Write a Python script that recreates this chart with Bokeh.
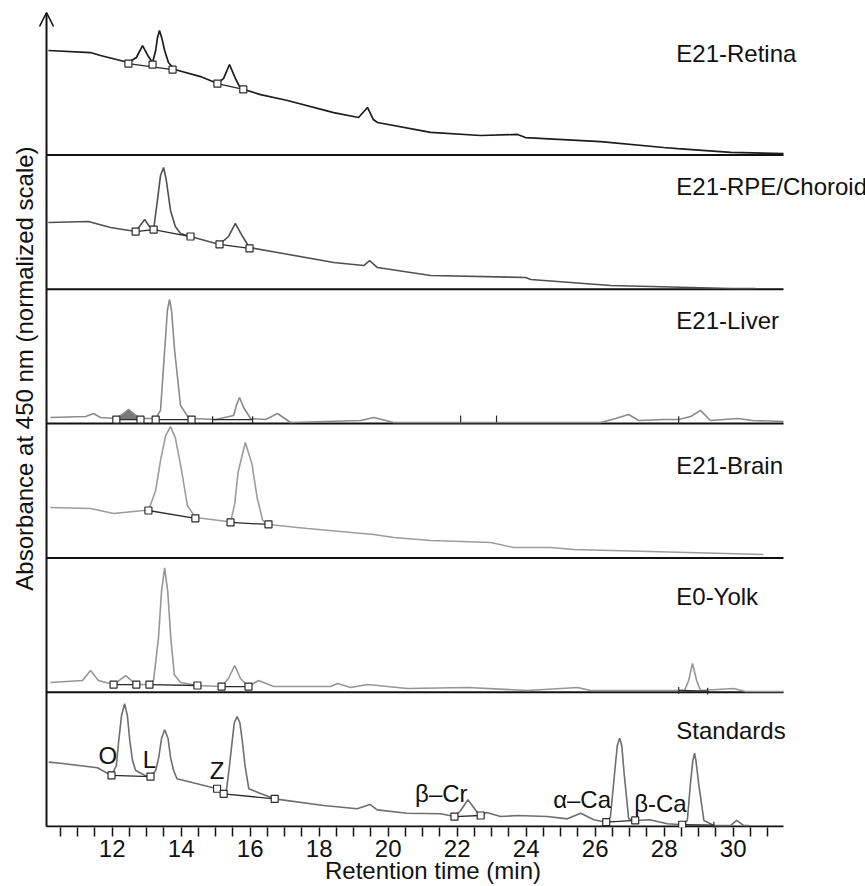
from math import pi
from bokeh.plotting import figure
from bokeh.models import Range1d, FixedTicker, Label, Arrow, OpenHead
from bokeh.embed import file_html
from bokeh.resources import INLINE

FONT = "Liberation Sans"

# ---------------- data (retention time in min, absorbance as fraction of panel height) ----------
panel_names = ["E21-Retina", "E21-RPE/Choroid", "E21-Liver", "E21-Brain", "E0-Yolk", "Standards"]
panel_label_v = [0.756, 0.769, 0.768, 0.688, 0.709, 0.715]

retina_t = [10.15, 11.37, 11.66, 12.47, 12.70, 12.88, 13.05, 13.17, 13.26, 13.31, 13.37, 13.44, 13.52,
            13.63, 13.81, 14.56, 15.05, 15.23, 15.40, 15.57, 15.72, 16.30, 17.08, 18.42, 19.14, 19.40,
            19.57, 19.69, 21.23, 22.68, 23.75, 23.98, 26.16, 27.98, 28.39, 29.93, 31.46]
retina_v = [0.778, 0.763, 0.741, 0.689, 0.726, 0.815, 0.733, 0.689, 0.778, 0.870, 0.927, 0.870, 0.778,
            0.689, 0.637, 0.584, 0.532, 0.570, 0.674, 0.570, 0.495, 0.450, 0.406, 0.316, 0.279, 0.354,
            0.264, 0.242, 0.168, 0.145, 0.153, 0.130, 0.100, 0.056, 0.048, 0.019, 0.011]

rpe_t = [10.15, 11.31, 11.95, 12.68, 12.79, 12.94, 13.08, 13.20, 13.31, 13.40, 13.49, 13.57, 13.69,
         13.83, 13.98, 14.27, 15.11, 15.37, 15.57, 15.78, 15.98, 16.79, 18.42, 19.29, 19.46, 19.69,
         21.23, 23.98, 24.13, 26.45, 29.93, 30.65]
rpe_v = [0.497, 0.505, 0.460, 0.430, 0.468, 0.520, 0.468, 0.445, 0.661, 0.847, 0.907, 0.810, 0.587,
         0.468, 0.415, 0.393, 0.334, 0.393, 0.490, 0.393, 0.311, 0.274, 0.200, 0.177, 0.214, 0.162,
         0.103, 0.088, 0.073, 0.028, 0.006, 0.006]

liver_t = [10.21, 11.23, 11.46, 11.66, 12.12, 12.33, 12.47, 12.65, 12.82, 13.26, 13.40, 13.52, 13.60,
           13.66, 13.72, 13.81, 13.98, 14.21, 14.30, 15.00, 15.52, 15.60, 15.69, 15.81, 16.01, 16.45,
           16.79, 17.17, 19.20, 19.58, 20.16, 26.16, 26.59, 26.97, 27.26, 27.98, 28.42, 28.77, 29.05,
           29.34, 30.13, 30.56, 31.46]
liver_v = [0.045, 0.053, 0.075, 0.045, 0.038, 0.075, 0.105, 0.068, 0.038, 0.038, 0.098, 0.544, 0.842,
           0.924, 0.842, 0.544, 0.135, 0.045, 0.038, 0.030, 0.060, 0.135, 0.194, 0.120, 0.038, 0.030,
           0.075, 0.008, 0.023, 0.045, 0.008, 0.008, 0.038, 0.068, 0.023, 0.030, 0.030, 0.053, 0.098,
           0.023, 0.038, 0.023, 0.016]
liver_fill_range = (12.12, 12.82)

brain_t = [10.21, 11.37, 12.04, 12.91, 13.05, 13.26, 13.40, 13.55, 13.69, 13.83, 14.01, 14.18, 14.41,
           15.34, 15.43, 15.55, 15.65, 15.86, 16.05, 16.20, 16.36, 16.53, 17.66, 19.58, 20.16, 21.23,
           22.97, 23.64, 24.71, 25.38, 30.88]
brain_v = [0.375, 0.368, 0.331, 0.353, 0.353, 0.502, 0.725, 0.911, 0.978, 0.896, 0.651, 0.390, 0.301,
           0.271, 0.264, 0.400, 0.640, 0.859, 0.700, 0.450, 0.280, 0.249, 0.219, 0.174, 0.152, 0.130,
           0.115, 0.077, 0.077, 0.063, 0.025]

yolk_t = [10.21, 11.14, 11.37, 11.60, 12.04, 12.39, 12.70, 13.08, 13.20, 13.34, 13.43, 13.52, 13.61,
          13.70, 13.80, 13.98, 14.47, 15.17, 15.37, 15.55, 15.72, 15.95, 16.24, 16.68, 18.33, 18.53,
          18.91, 19.40, 20.56, 22.30, 24.04, 25.49, 25.87, 28.59, 28.71, 28.82, 28.94, 29.05, 30.01,
          30.36, 31.46]
yolk_v = [0.072, 0.087, 0.162, 0.087, 0.057, 0.124, 0.057, 0.057, 0.090, 0.400, 0.750, 0.926, 0.750,
          0.400, 0.130, 0.072, 0.050, 0.042, 0.102, 0.199, 0.102, 0.042, 0.087, 0.042, 0.042, 0.065,
          0.035, 0.057, 0.028, 0.035, 0.013, 0.035, 0.013, 0.013, 0.087, 0.214, 0.087, 0.013, 0.028,
          0.005, 0.005]

std_t = [10.16, 10.50, 11.57, 11.98, 12.12, 12.19, 12.27, 12.36, 12.44, 12.51, 12.59, 12.68, 13.01,
         13.11, 13.26, 13.35, 13.43, 13.52, 13.62, 13.69, 13.78, 13.88, 14.46, 15.04, 15.23, 15.31,
         15.40, 15.48, 15.54, 15.62, 15.70, 15.77, 15.85, 15.96, 16.30, 16.71, 18.13, 19.10, 19.47,
         19.68, 20.55, 21.52, 21.92, 22.10, 22.31, 22.58, 22.68, 22.85, 23.26, 23.74, 24.61, 25.19,
         25.58, 25.96, 26.32, 26.44, 26.56, 26.64, 26.71, 26.77, 26.84, 26.97, 27.16, 27.58, 28.09,
         28.52, 28.67, 28.76, 28.83, 28.88, 28.92, 29.00, 29.15, 29.44, 29.92, 30.10, 30.31, 30.45]
std_v = [0.479, 0.471, 0.437, 0.380, 0.454, 0.640, 0.826, 0.914, 0.826, 0.640, 0.491, 0.417, 0.372,
         0.372, 0.417, 0.516, 0.655, 0.720, 0.655, 0.516, 0.417, 0.355, 0.318, 0.281, 0.243, 0.268,
         0.454, 0.640, 0.774, 0.819, 0.774, 0.640, 0.454, 0.281, 0.246, 0.206, 0.156, 0.132, 0.164,
         0.124, 0.099, 0.095, 0.074, 0.119, 0.199, 0.106, 0.082, 0.104, 0.074, 0.082, 0.074, 0.057,
         0.099, 0.050, 0.032, 0.069, 0.392, 0.603, 0.657, 0.603, 0.392, 0.057, 0.045, 0.050, 0.020,
         0.013, 0.045, 0.318, 0.491, 0.546, 0.491, 0.318, 0.045, 0.007, 0.007, 0.045, 0.007, 0.007]

# integration marks: (kind, time, value); kind "s" = square, "t" = small tick
retina_marks = [("s", 12.47, 0.681), ("s", 13.17, 0.673), ("s", 13.75, 0.636), ("s", 15.05, 0.532),
                ("s", 15.80, 0.488)]
retina_pairs = [(0, 2), (3, 4)]
rpe_marks = [("s", 12.68, 0.430), ("s", 13.20, 0.445), ("s", 14.27, 0.393), ("s", 15.11, 0.334),
             ("s", 15.98, 0.304)]
rpe_pairs = [(0, 1), (1, 2), (3, 4)]
liver_marks = [("s", 12.12, 0.030), ("s", 12.82, 0.030), ("s", 13.26, 0.030), ("s", 14.30, 0.030),
               ("t", 14.91, 0.030), ("t", 16.07, 0.030), ("t", 22.10, 0.035), ("t", 23.14, 0.035),
               ("t", 28.42, 0.030)]
liver_pairs = [(0, 1), (2, 3), (4, 5)]
brain_marks = [("s", 13.05, 0.353), ("s", 14.41, 0.295), ("s", 15.43, 0.264), ("s", 16.53, 0.249)]
brain_pairs = [(0, 1), (2, 3)]
yolk_marks = [("s", 12.04, 0.057), ("s", 12.70, 0.057), ("s", 13.08, 0.057), ("s", 14.47, 0.050),
              ("s", 15.17, 0.042), ("s", 15.95, 0.042), ("t", 28.42, 0.013), ("t", 29.26, 0.008)]
yolk_pairs = [(0, 1), (2, 3), (4, 5), (6, 7)]
std_marks = [("s", 11.98, 0.380), ("s", 13.11, 0.372), ("s", 15.04, 0.281), ("s", 15.23, 0.243),
             ("s", 16.71, 0.206), ("s", 21.92, 0.074), ("s", 22.68, 0.082), ("s", 26.32, 0.032),
             ("s", 27.16, 0.045), ("s", 28.52, 0.013), ("t", 29.44, 0.010)]
std_pairs = [(0, 1), (3, 4), (5, 6), (7, 8), (9, 10)]

peak_names = ["O", "L", "Z", "β–Cr", "α–Ca", "β-Ca"]
peak_name_t = [11.87, 13.08, 15.04, 21.54, 25.62, 27.89]
peak_name_v = [0.529, 0.499, 0.417, 0.246, 0.201, 0.171]

major_ticks = [12, 14, 16, 18, 20, 22, 24, 26, 28, 30]
minor_ticks = [10.5, 11, 11.5, 12.5, 13, 13.5, 14.5, 15, 15.5, 16.5, 17, 17.5, 18.5, 19, 19.5,
               20.5, 21, 21.5, 22.5, 23, 23.5, 24.5, 25, 25.5, 26.5, 27, 27.5, 28.5, 29, 29.5,
               30.5, 31]

x_label = "Retention time (min)"
y_label = "Absorbance at 450 nm (normalized scale)"

# ---------------- figure -------------------------------------------------------------------------
X_LO, X_HI = 8.7623, 33.8348          # whole canvas width
AX_LO, AX_HI = 10.096, 31.458         # drawn axis extent
Y_LO, Y_HI = -0.00745, 6.1504
ARROW_TOP = 6.061

p = figure(frame_width=865, frame_height=827, x_range=Range1d(X_LO, X_HI),
           y_range=Range1d(Y_LO, Y_HI), output_backend="svg", toolbar_location=None,
           y_axis_location=None, min_border=0, min_border_left=0, min_border_right=0,
           min_border_top=0)
p.outline_line_color = None
p.grid.visible = False
p.background_fill_color = "white"
p.border_fill_color = "white"

ax = p.xaxis[0]
ax.ticker = FixedTicker(ticks=major_ticks, minor_ticks=minor_ticks)
ax.axis_line_color = None
ax.major_tick_in = 0
ax.major_tick_out = 9
ax.minor_tick_in = 0
ax.minor_tick_out = 9
ax.major_tick_line_width = 1.5
ax.minor_tick_line_width = 1.5
ax.major_tick_line_color = "#111111"
ax.minor_tick_line_color = "#111111"
ax.major_label_text_font = FONT
ax.major_label_text_font_size = "24px"
ax.major_label_text_color = "#111111"
ax.major_label_standoff = 3
ax.axis_label = x_label
ax.axis_label_text_font = FONT
ax.axis_label_text_font_size = "24px"
ax.axis_label_text_font_style = "normal"
ax.axis_label_text_color = "#111111"
ax.axis_label_standoff = -3

panels = [
    (retina_t, retina_v, retina_marks, retina_pairs, "#1c1c1c", 1.7),
    (rpe_t, rpe_v, rpe_marks, rpe_pairs, "#505050", 1.6),
    (liver_t, liver_v, liver_marks, liver_pairs, "#8a8a8a", 1.6),
    (brain_t, brain_v, brain_marks, brain_pairs, "#9c9c9c", 1.6),
    (yolk_t, yolk_v, yolk_marks, yolk_pairs, "#969696", 1.6),
    (std_t, std_v, std_marks, std_pairs, "#6e6e6e", 1.6),
]

n = len(panels)
# bottom axis line + separators between panels
sep_y = list(range(0, n))
p.segment(x0=[AX_LO] * len(sep_y), y0=sep_y, x1=[AX_HI] * len(sep_y), y1=sep_y,
          line_color="#111111", line_width=2)

for i, (t, v, marks, pairs, color, w) in enumerate(panels):
    off = n - 1 - i
    if i == 2:
        lo, hi = liver_fill_range
        ft = [a for a in t if lo <= a <= hi]
        fv = [b + off for a, b in zip(t, v) if lo <= a <= hi]
        p.varea(x=ft, y1=[marks[0][2] + off] * len(ft), y2=fv, fill_color="#6a6a6a", fill_alpha=0.9)
    p.line(x=t, y=[b + off for b in v], line_color=color, line_width=w)
    # integration baselines
    p.segment(x0=[marks[a][1] for a, b in pairs], y0=[marks[a][2] + off for a, b in pairs],
              x1=[marks[b][1] for a, b in pairs], y1=[marks[b][2] + off for a, b in pairs],
              line_color="#2a2a2a", line_width=1.3)
    sq = [m for m in marks if m[0] == "s"]
    tk = [m for m in marks if m[0] == "t"]
    if tk:
        p.segment(x0=[m[1] for m in tk], y0=[m[2] + off - 0.025 for m in tk],
                  x1=[m[1] for m in tk], y1=[m[2] + off + 0.025 for m in tk],
                  line_color="#2a2a2a", line_width=1.2)
    if sq:
        p.scatter(x=[m[1] for m in sq], y=[m[2] + off for m in sq], marker="square", size=7,
                  fill_color="white", line_color="#2a2a2a", line_width=1.2)
    p.add_layout(Label(x=28.35, y=panel_label_v[i] + off, text=panel_names[i], text_font=FONT,
                       text_font_size="24px", text_color="#111111", text_align="left",
                       text_baseline="middle"))

for name, tt, vv in zip(peak_names, peak_name_t, peak_name_v):
    p.add_layout(Label(x=tt, y=vv, text=name, text_font=FONT, text_font_size="24px",
                       text_color="#111111", text_align="center", text_baseline="middle"))

# y axis drawn as an arrow
p.add_layout(Arrow(end=OpenHead(size=14, line_width=1.6, line_color="#111111"),
                   x_start=AX_LO, y_start=0, x_end=AX_LO, y_end=ARROW_TOP,
                   line_width=2, line_color="#111111"))

p.add_layout(Label(x=9.458, y=3.41, text=y_label, angle=pi / 2, text_font=FONT,
                   text_font_size="24px", text_color="#111111", text_align="center",
                   text_baseline="middle"))

open("out.html", "w").write(file_html(p, INLINE))
